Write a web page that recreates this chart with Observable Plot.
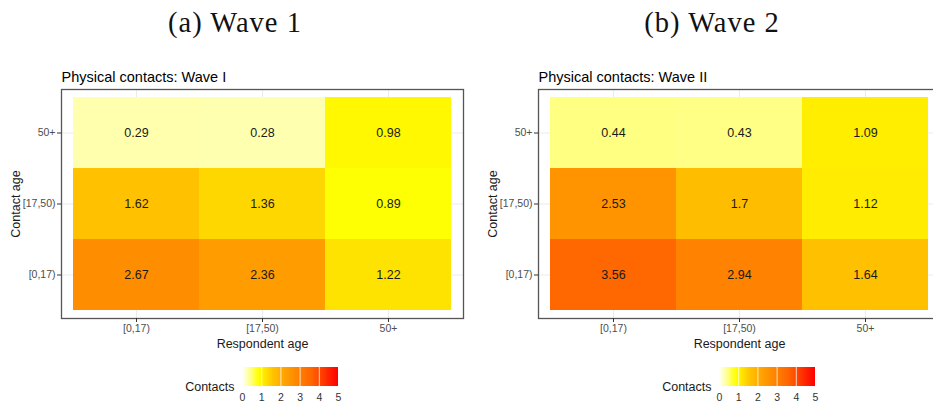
<!DOCTYPE html>
<html>
<head>
<meta charset="utf-8">
<script src="https://cdn.jsdelivr.net/npm/d3@7"></script>
<script src="https://cdn.jsdelivr.net/npm/@observablehq/plot@0.6"></script>
<style>
  html, body { margin: 0; padding: 0; background: #fff; overflow: hidden; }
  #page { position: relative; width: 933px; height: 409px; overflow: hidden; background: #fff; }
  .hdr { position: absolute; top: 9px; width: 470px; text-align: center;
         font-family: "Liberation Serif", "Times New Roman", serif; font-size: 28.5px;
         line-height: 28px; letter-spacing: 1px; color: #111; }
  .abs { position: absolute; }
</style>
</head>
<body>
<div id="page"></div>
<script>
// ---------- data ----------
const respondentAges = ["[0,17)", "[17,50)", "50+"];
const contactAges = ["[0,17)", "[17,50)", "50+"];
// rows: contact age, columns: respondent age
const wave1Contact0_17  = [2.67, 2.36, 1.22];
const wave1Contact17_50 = [1.62, 1.36, 0.89];
const wave1Contact50    = [0.29, 0.28, 0.98];
const wave2Contact0_17  = [3.56, 2.94, 1.64];
const wave2Contact17_50 = [2.53, 1.7, 1.12];
const wave2Contact50    = [0.44, 0.43, 1.09];
const legendTicks = [0, 1, 2, 3, 4, 5];
const headers = ["(a) Wave 1", "(b) Wave 2"];
const titles = ["Physical contacts: Wave I", "Physical contacts: Wave II"];

function toRows(rows) {
  const out = [];
  rows.forEach((vals, i) => vals.forEach((v, j) =>
    out.push({resp: respondentAges[j], contact: contactAges[i], value: v})));
  return out;
}
const wave1 = toRows([wave1Contact0_17, wave1Contact17_50, wave1Contact50]);
const wave2 = toRows([wave2Contact0_17, wave2Contact17_50, wave2Contact50]);

// ---------- styles ----------
const colorOpts = {
  type: "linear",
  domain: [0, 0.9, 1.6, 2.7, 3.6, 5],
  range: ["#ffffff", "#ffff00", "#ffc200", "#ff8c00", "#ff6600", "#ff0000"],
  interpolate: "rgb",
  clamp: true
};
const sans = "'Liberation Sans', Arial, Helvetica, sans-serif";

function heat(data, title) {
  return Plot.plot({
    width: 470, height: 300,
    marginLeft: 61, marginRight: 7, marginTop: 29, marginBottom: 42,
    style: {fontFamily: sans, background: "transparent", overflow: "visible"},
    x: {type: "band", domain: respondentAges, padding: 0, insetLeft: 12, insetRight: 12, label: null},
    y: {type: "band", domain: contactAges.slice().reverse(), padding: 0, insetTop: 7, insetBottom: 7, label: null},
    color: colorOpts,
    marks: [
      Plot.gridX({stroke: "#ebebeb", strokeOpacity: 1, strokeWidth: 1}),
      Plot.gridY({stroke: "#ebebeb", strokeOpacity: 1, strokeWidth: 1}),
      Plot.cell(data, {x: "resp", y: "contact", fill: "value", inset: 0, shapeRendering: "crispEdges"}),
      Plot.text(data, {x: "resp", y: "contact", text: d => String(d.value), fill: "#1a1a1a", fontSize: 12.5}),
      Plot.frame({stroke: "#555", strokeWidth: 1.3}),
      Plot.axisX({tickSize: 4, tickPadding: 2, fontSize: 10.5, stroke: "#333", fill: "#4d4d4d", label: null}),
      Plot.axisY({tickSize: 4, tickPadding: 2, fontSize: 10.5, stroke: "#333", fill: "#4d4d4d", label: null}),
      Plot.text([title], {frameAnchor: "top-left", dy: -8, lineAnchor: "bottom", textAnchor: "start", fontSize: 14.5, fill: "#000"}),
      Plot.text(["Respondent age"], {frameAnchor: "bottom", dy: 25.5, lineAnchor: "middle", textAnchor: "middle", fontSize: 12.5, fill: "#1a1a1a"}),
      Plot.text(["Contact age"], {frameAnchor: "left", dx: -46, rotate: -90, lineAnchor: "middle", textAnchor: "middle", fontSize: 12.5, fill: "#1a1a1a"})
    ]
  });
}

function legend() {
  const steps = d3.range(0, 5, 0.05);
  return Plot.plot({
    width: 200, height: 49,
    marginLeft: 92, marginRight: 12, marginTop: 7, marginBottom: 23,
    style: {fontFamily: sans, background: "transparent", overflow: "visible"},
    x: {type: "linear", domain: [0, 5], ticks: legendTicks, tickFormat: d3.format("d"), label: null},
    color: colorOpts,
    marks: [
      Plot.rect(steps, {x1: d => d, x2: d => d + 0.06, fill: d => d + 0.025, shapeRendering: "crispEdges"}),
      Plot.ruleX(legendTicks.slice(1, -1), {stroke: "#fff", strokeOpacity: 0.75, strokeWidth: 1}),
      Plot.axisX({ticks: legendTicks, tickFormat: d3.format("d"), tickSize: 0, tickPadding: 7, fontSize: 10.5, fill: "#333", label: null}),
      Plot.text(["Contacts"], {frameAnchor: "bottom-left", dx: -8, dy: 0, textAnchor: "end", lineAnchor: "middle", fontSize: 12.5, fill: "#1a1a1a"})
    ]
  });
}

const page = document.getElementById("page");
[wave1, wave2].forEach((data, k) => {
  const off = k * 477;
  const h = document.createElement("div");
  h.className = "hdr";
  h.style.left = off + "px";
  h.textContent = headers[k];
  page.appendChild(h);

  const p = heat(data, titles[k]);
  p.classList.add("abs");
  p.style.left = off + "px";
  p.style.top = "60px";
  page.appendChild(p);

  const l = legend();
  l.classList.add("abs");
  l.style.left = (150 + off) + "px";
  l.style.top = "360px";
  page.appendChild(l);
});
</script>
</body>
</html>
